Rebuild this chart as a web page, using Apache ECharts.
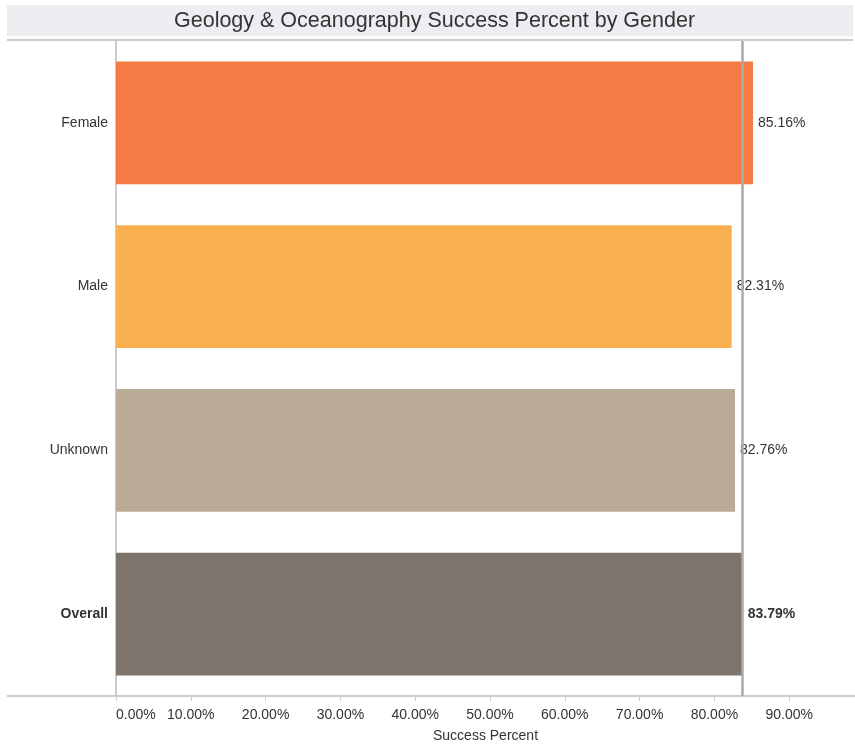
<!DOCTYPE html>
<html>
<head>
<meta charset="utf-8">
<script src="https://cdn.jsdelivr.net/npm/echarts@6/dist/echarts.min.js"></script>
<style>
html,body{margin:0;padding:0;background:#fff;}
#main{width:855px;height:746px;}
</style>
</head>
<body>
<div id="main"></div>
<script>
const categories = ['Female', 'Male', 'Unknown', 'Overall'];
const successPercent = [85.16, 82.31, 82.76, 83.79];
const barColors = ['#f47b44', '#f9b04e', '#baab97', '#7d756b'];
const referenceValue = 83.79;
const tickValues = [0, 10, 20, 30, 40, 50, 60, 70, 80, 90];

const FONT = '"Liberation Sans", Arial, sans-serif';
const chart = echarts.init(document.getElementById('main'), null, {renderer: 'canvas'});

const data = successPercent.map((v, i) => ({
  value: v,
  itemStyle: {color: barColors[i]},
  label: {fontWeight: categories[i] === 'Overall' ? 'bold' : 'normal'}
}));

chart.setOption({
  animation: false,
  backgroundColor: '#fff',
  graphic: [
    {type: 'rect', shape: {x: 7, y: 5, width: 846, height: 31}, style: {fill: '#eceef2'}, z: -1, silent: true},
    {type: 'line', shape: {x1: 7, y1: 40, x2: 853, y2: 40}, style: {stroke: '#cccccc', lineWidth: 2}, silent: true},
    {type: 'line', shape: {x1: 7, y1: 696, x2: 116, y2: 696}, style: {stroke: '#cccccc', lineWidth: 2}, silent: true},
    {type: 'text', left: 174, top: 10, style: {text: 'Geology & Oceanography Success Percent by Gender', font: '21.5px ' + FONT, fill: '#333'}}
  ],
  grid: {left: 116, right: 0, top: 41, bottom: 50, containLabel: false, outerBoundsMode: 'none'},
  xAxis: {
    type: 'value',
    min: 0,
    max: 98.8,
    interval: 10,
    name: 'Success Percent',
    nameLocation: 'middle',
    nameGap: 33,
    nameTextStyle: {fontSize: 14, color: '#333', fontFamily: FONT},
    axisLine: {show: true, lineStyle: {color: '#cccccc', width: 2}},
    axisTick: {show: true, length: 5, lineStyle: {color: '#cccccc'}, customValues: tickValues},
    axisLabel: {
      customValues: tickValues,
      formatter: v => v.toFixed(2) + '%',
      fontSize: 14, color: '#333', margin: 12,
      fontFamily: FONT,
      alignMinLabel: 'left'
    },
    splitLine: {show: false}
  },
  yAxis: {
    type: 'category',
    inverse: true,
    data: categories,
    axisLine: {show: true, lineStyle: {color: '#cccccc', width: 2}},
    axisTick: {show: false},
    axisLabel: {
      fontSize: 14, color: '#333', margin: 8,
      fontFamily: FONT,
      formatter: v => v === 'Overall' ? '{b|' + v + '}' : v,
      rich: {b: {fontWeight: 'bold', fontSize: 14, color: '#333', fontFamily: FONT}}
    }
  },
  series: [{
    type: 'bar',
    data: data,
    barWidth: '75%',
    label: {
      show: true,
      position: 'right',
      distance: 5,
      fontSize: 14,
      color: '#333',
      fontFamily: FONT,
      formatter: p => p.value.toFixed(2) + '%'
    },
    markLine: {
      silent: true,
      symbol: 'none',
      label: {show: false},
      lineStyle: {color: '#aaaaaa', width: 2.5, type: 'solid'},
      data: [{xAxis: referenceValue}],
      z: 10
    }
  }]
});
</script>
</body>
</html>
